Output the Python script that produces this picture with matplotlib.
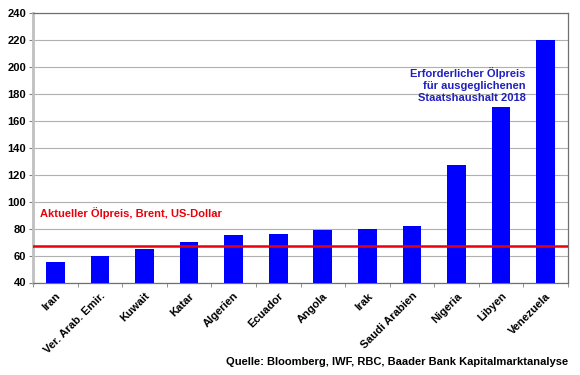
import numpy as np
import matplotlib.pyplot as plt

plt.rcParams['font.family'] = ['Liberation Sans', 'DejaVu Sans']
plt.rcParams['font.weight'] = 'bold'

countries = ['Iran', 'Ver. Arab. Emir.', 'Kuwait', 'Katar', 'Algerien', 'Ecuador',
             'Angola', 'Irak', 'Saudi Arabien', 'Nigeria', 'Libyen', 'Venezuela']
breakeven = [55, 60, 65, 70, 75, 76, 79, 80, 82, 127, 170, 220]
brent = 67
yticks = list(range(40, 241, 20))

fig = plt.figure(figsize=(5.8, 3.75), dpi=100)
ax = fig.add_axes([33 / 580, 1 - 282.5 / 375, 535 / 580, 269.5 / 375])

x = np.arange(len(countries))
ax.bar(x, np.array(breakeven) - 40, bottom=40, width=0.42, color='#0000ff', zorder=3)
ax.axhline(brent, color='#e8000b', lw=1.8, zorder=4)

ax.set_xlim(-0.5, len(countries) - 0.5)
ax.set_ylim(40, 240)
ax.set_yticks(yticks)
ax.tick_params(axis='y', labelsize=8, length=3, color='#808080', pad=2)
ax.yaxis.grid(True, color='#b0b0b0', lw=0.8, zorder=0)

ax.set_xticks(x)
ax.set_xticklabels(countries, rotation=45, ha='right', rotation_mode='anchor', fontsize=8)
ax.tick_params(axis='x', length=0, pad=6)
ax.set_xticks(np.arange(-0.5, len(countries), 1), minor=True)
ax.tick_params(axis='x', which='minor', length=3, color='#808080')

for s in ['top', 'right', 'bottom']:
    ax.spines[s].set_color('#707070')
    ax.spines[s].set_linewidth(0.9)
ax.spines['left'].set_color('#c0c0c0')
ax.spines['left'].set_linewidth(2)

ax.text(-0.35, 91.5, 'Aktueller Ölpreis, Brent, US-Dollar', color='#e8000b',
        fontsize=8, va='center', ha='left')
ax.text(10.55, 173, 'Erforderlicher Ölpreis\nfür ausgeglichenen\nStaatshaushalt 2018',
        color='#2020c0', fontsize=8, ha='right', va='bottom', linespacing=1.25)

fig.text(568 / 580, 1 - 362 / 375, 'Quelle: Bloomberg, IWF, RBC, Baader Bank Kapitalmarktanalyse',
         ha='right', va='center', fontsize=8)

fig.savefig('out.png', dpi=100)
